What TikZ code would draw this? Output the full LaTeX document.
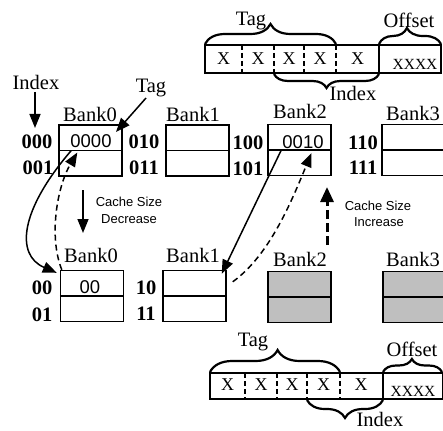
\documentclass[tikz,border=0pt]{standalone}
\usepackage{fontspec}
\setmainfont{Liberation Serif}
\setsansfont{Liberation Sans}
\usetikzlibrary{decorations.pathreplacing,arrows.meta}
\begin{document}
\begin{tikzpicture}[x=1pt,y=-1pt,
 bank/.style={draw,line width=1.4pt,minimum width=63pt,minimum height=51pt,inner sep=0pt},
 gbank/.style={bank,fill=black!25},
 lbl/.style={font=\fontsize{20.5}{24}\selectfont,inner sep=0pt},
 rowlbl/.style={font=\fontsize{20.5}{24}\selectfont\bfseries,inner sep=0pt},
 cell/.style={font=\sffamily\fontsize{18.5}{22}\selectfont,inner sep=0pt},
 note/.style={font=\sffamily\fontsize{13}{15}\selectfont,inner sep=0pt},
 bit/.style={font=\fontsize{18}{20}\selectfont,inner sep=0pt},
 bits/.style={font=\fontsize{15.5}{18}\selectfont,inner sep=0pt},
 brc/.style={decorate,decoration={brace,amplitude=#1},line width=2.2pt},
 arr/.style={-{Triangle[length=14pt,width=11pt]},line width=1.5pt},
 reg/.style={line width=1.4pt},
 div/.style={line width=1.4pt,dash pattern=on 5pt off 3pt},
]
\useasboundingbox (0,0) rectangle (443,430);

% ---------- top address register ----------
\draw[reg] (205,45) rectangle (441,73);
\foreach \x in {242,274,304,336} \draw[div] (\x,45) -- (\x,73);
\draw[reg] (379,45) -- (379,73);
\node[bit] (tx1) at (223.5,59) {X};
\node[bit] (tx2) at (258,59) {X};
\node[bit] (tx3) at (289,59) {X};
\node[bit] (tx4) at (320,59) {X};
\node[bit] (tx5) at (357.5,59) {X};
\node[bits] (txo) at (415,64) {XXXX};
\draw[brc=20pt] (205,44) -- (336,44);
\draw[brc=16pt,decoration={aspect=0.45}] (379,44) -- (441,44);
\draw[brc=14pt] (379,74) -- (274,74);
\node[lbl] (ttag) at (251,21) {Tag};
\node[lbl] (toff) at (409,20) {Offset};
\node[lbl] (tidx) at (353,93) {Index};

% ---------- top banks ----------
\node[bank] (t0) at (90.5,150.5) {};
\node[bank] (t1) at (197.5,150.5) {};
\node[bank] (t2) at (299.5,150) {};
\node[bank] (t3) at (413.5,150) {};
\foreach \n in {t0,t1,t2,t3} \draw[reg] (\n.west) -- (\n.east);
\node[lbl] (lt0) at (90,114) {Bank0};
\node[lbl] (lt1) at (193,114) {Bank1};
\node[lbl] (lt2) at (300,111) {Bank2};
\node[lbl] (lt3) at (413,113) {Bank3};
\node[rowlbl] (r000) at (37,142) {000};
\node[rowlbl] (r001) at (38,168) {001};
\node[rowlbl] (r010) at (144,142) {010};
\node[rowlbl] (r011) at (144,168) {011};
\node[rowlbl] (r100) at (248,143) {100};
\node[rowlbl] (r101) at (248,169) {101};
\node[rowlbl] (r110) at (363,143) {110};
\node[rowlbl] (r111) at (363,168) {111};
\node[cell] (c0000) at (91,141) {0000};
\node[cell] (c0010) at (303,142) {0010};

\node[lbl] (idxl) at (36,82) {Index};
\coordinate (idxend) at (35,128);
\draw[arr] (35,92) -- (idxend);
\node[lbl] (tagl) at (151,88) {Tag};
\coordinate (tagend) at (116,132);
\draw[arr] (146,98) -- (tagend);

% ---------- cache size notes ----------
\coordinate (dec1) at (83,190);
\coordinate (dec2) at (83,233);
\draw[arr] (dec1) -- (dec2);
\node[note] (decA) at (129,202) {Cache Size};
\node[note] (decB) at (129,219) {Decrease};
\coordinate (inc1) at (327,245);
\coordinate (inc2) at (327,187);
\draw[-{Triangle[length=15pt,width=13pt]},line width=3pt,dash pattern=on 9pt off 4pt] (inc1) -- (inc2);
\node[note] (incA) at (378,206) {Cache Size};
\node[note] (incB) at (379,222) {Increase};

% ---------- bottom banks ----------
\node[bank] (b0) at (92,296) {};
\node[bank] (b1) at (194.5,296) {};
\node[gbank] (b2) at (299.5,297) {};
\node[gbank] (b3) at (414.5,297) {};
\foreach \n in {b0,b1,b2,b3} \draw[reg] (\n.west) -- (\n.east);
\node[lbl] (lb0) at (91,255) {Bank0};
\node[lbl] (lb1) at (193,255) {Bank1};
\node[lbl] (lb2) at (300,259) {Bank2};
\node[lbl] (lb3) at (413,259) {Bank3};
\node[rowlbl] (r00) at (42,288) {00};
\node[rowlbl] (r01) at (42,315) {01};
\node[rowlbl] (r10) at (146,288) {10};
\node[rowlbl] (r11) at (146,314) {11};
\node[cell] (c00) at (90,287) {00};

% ---------- connectors ----------
\draw[arr] ([xshift=13pt]t0.west) .. controls (20,210) and (15,255) .. ([xshift=-3pt,yshift=-3pt]b0.north west);
\draw[arr,dash pattern=on 6pt off 4pt] ([xshift=2pt]b0.north west) .. controls (48,235) and (58,185) .. ([xshift=19pt,yshift=-2pt]t0.west);
\draw[arr] ([xshift=14pt]t2.west) -- ([xshift=-5pt,yshift=-4pt]b1.north east);
\draw[arr,dash pattern=on 6pt off 4pt] ([xshift=6pt,yshift=-12pt]b1.north east) .. controls (270,255) and (292,200) .. ([xshift=12pt,yshift=-3pt]t2.center);

% ---------- bottom address register ----------
\draw[reg] (210,373) rectangle (443,399);
\foreach \x in {245,277,307,340} \draw[div] (\x,373) -- (\x,399);
\draw[reg] (383,373) -- (383,399);
\node[bit] (bx1) at (227.5,385) {X};
\node[bit] (bx2) at (261,385) {X};
\node[bit] (bx3) at (292,385) {X};
\node[bit] (bx4) at (323.5,385) {X};
\node[bit] (bx5) at (361,385) {X};
\node[bits] (bxo) at (413,391) {XXXX};
\draw[brc=22pt,decoration={aspect=0.52}] (210,372) -- (340,372);
\draw[brc=13pt,decoration={aspect=0.49}] (383,372) -- (442,372);
\draw[brc=18pt] (383,400) -- (307,400);
\node[lbl] (btag) at (253,342) {Tag};
\node[lbl] (boff) at (412,349) {Offset};
\node[lbl] (bidx) at (380,419) {Index};
\end{tikzpicture}
\end{document}
